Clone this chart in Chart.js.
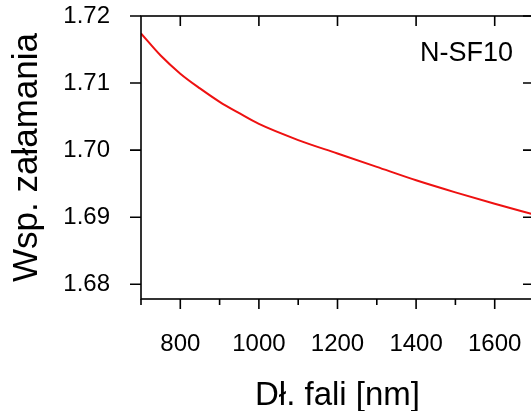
<!DOCTYPE html>
<html>
<head>
<meta charset="utf-8">
<script src="https://cdn.jsdelivr.net/npm/chart.js@4/dist/chart.umd.min.js"></script>
<style>
  html,body{margin:0;padding:0;background:#fff;overflow:hidden;}
  #wrap{width:540px;height:411px;}
</style>
</head>
<body>
<div id="wrap"><canvas id="chart" width="540" height="411"></canvas></div>
<script>
// Data
const wavelengths = [700, 750, 800, 850, 900, 950, 1000, 1100, 1200, 1300, 1400, 1500, 1600, 1700];
const refrIndex   = [1.7174, 1.7141, 1.7114, 1.7092, 1.7072, 1.7055, 1.7039, 1.7015, 1.6995, 1.6975, 1.6955, 1.6937, 1.6920, 1.6904];
const xMajorTicks = [800, 1000, 1200, 1400, 1600];
const xMinorTicks = [700, 900, 1100, 1300, 1500, 1700];
const yTicks = [1.68, 1.69, 1.70, 1.71, 1.72];
const glassName = 'N-SF10';

const FONT = "'Liberation Sans', Arial, sans-serif";

// frame + tick marks, drawn off the scales
const frame = {
  id: 'frame',
  afterDraw(c){
    const {ctx, chartArea:a, scales:{x, y}} = c;
    ctx.save();
    ctx.strokeStyle = '#000'; ctx.lineWidth = 1.6;
    ctx.strokeRect(a.left, a.top, a.right - a.left, a.bottom - a.top);
    ctx.beginPath();
    xMajorTicks.forEach(v => { const px = x.getPixelForValue(v);
      ctx.moveTo(px, a.bottom); ctx.lineTo(px, a.bottom + 10);
      ctx.moveTo(px, a.top); ctx.lineTo(px, a.top + 10); });
    xMinorTicks.forEach(v => { const px = x.getPixelForValue(v);
      ctx.moveTo(px, a.bottom); ctx.lineTo(px, a.bottom + 6); });
    yTicks.forEach(v => { const py = y.getPixelForValue(v);
      ctx.moveTo(a.left - 11, py); ctx.lineTo(a.left, py);
      ctx.moveTo(a.right, py); ctx.lineTo(a.right - 11, py); });
    ctx.stroke();
    ctx.fillStyle = '#000'; ctx.font = '27px ' + FONT;
    ctx.textAlign = 'right'; ctx.textBaseline = 'middle';
    ctx.fillText(glassName, a.right - 21, a.top + 38);
    ctx.restore();
  }
};

const noPad = s => { s.paddingTop = 0; s.paddingBottom = 0; s.paddingLeft = 0; s.paddingRight = 0; };

new Chart(document.getElementById('chart'), {
  type: 'line',
  data: {
    datasets: [{
      data: wavelengths.map((w, i) => ({x: w, y: refrIndex[i]})),
      borderColor: '#ee1111', borderWidth: 2, pointRadius: 0,
      cubicInterpolationMode: 'monotone', fill: false
    }]
  },
  options: {
    responsive: false, animation: false,
    layout: {padding: {top: 16, right: 6, left: 0, bottom: 0}},
    plugins: {legend: {display: false}, tooltip: {enabled: false}},
    scales: {
      x: {
        type: 'linear', min: 700, max: 1700,
        grid: {display: false}, border: {display: false},
        afterBuildTicks: s => { s.ticks = xMajorTicks.map(v => ({value: v})); },
        afterFit: s => { s.height = 112; noPad(s); },
        ticks: {color: '#000', padding: 23, maxRotation: 0, font: {family: FONT, size: 24}, callback: v => String(v)},
        title: {display: true, text: 'Dł. fali [nm]', color: '#000', font: {family: FONT, size: 33, lineHeight: 0.9}, padding: {top: 4, bottom: 0}}
      },
      y: {
        min: 1.6778, max: 1.72,
        grid: {display: false}, border: {display: false},
        afterBuildTicks: s => { s.ticks = yTicks.map(v => ({value: v})); },
        afterFit: s => { s.width = 141; noPad(s); },
        ticks: {color: '#000', padding: 23, font: {family: FONT, size: 24}, callback: v => v.toFixed(2)},
        title: {display: true, text: 'Wsp. załamania', color: '#000', font: {family: FONT, size: 35}, padding: {top: 6, bottom: 0}}
      }
    }
  },
  plugins: [frame]
});
</script>
</body>
</html>
